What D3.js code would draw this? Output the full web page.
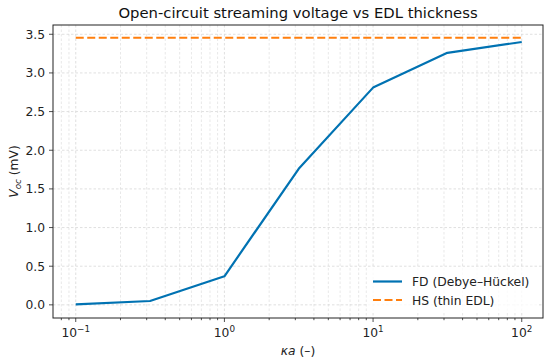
<!DOCTYPE html>
<html><head><meta charset="utf-8">
<script src="https://cdn.jsdelivr.net/npm/d3@7"></script>
<style>body{margin:0;background:#fff}svg{display:block;font-family:"DejaVu Sans",sans-serif}</style>
</head><body><svg id="c" width="550" height="362"></svg>
<script>
const kaValues = [0.1, 0.316, 1, 3.16, 10, 31.6, 100];
const fdValues = [0.005, 0.05, 0.37, 1.76, 2.81, 3.26, 3.40];
const hsValue = 3.455;
const yTicks = [0.0, 0.5, 1.0, 1.5, 2.0, 2.5, 3.0, 3.5];
const xTickExps = [-1, 0, 1, 2];
const seriesNames = ["FD (Debye\u2013H\u00fcckel)", "HS (thin EDL)"];
const colors = ["#0072b2", "#ff7f0e"];

const svg = d3.select("#c");
const L = 53, R = 543, T = 25, B = 318;
const x = d3.scaleLog().domain([Math.pow(10,-1.153), Math.pow(10,2.143)]).range([L, R]);
const y = d3.scaleLinear().domain([-0.17, 3.62]).range([B, T]);

// grid
const minor = [];
for (let e = -2; e <= 2; e++) for (let m = 1; m < 10; m++) { const v = m*Math.pow(10,e); if (v >= x.domain()[0] && v <= x.domain()[1]) minor.push(v); }
const isMajor = d => xTickExps.some(e=>Math.abs(Math.pow(10,e)-d)<1e-9);
const g = svg.append("g");
g.selectAll(".gx").data(minor).join("line").attr("x1", d=>x(d)).attr("x2", d=>x(d)).attr("y1", T).attr("y2", B)
  .attr("stroke", "#d8d8d8").attr("stroke-width", d => isMajor(d) ? 0.8 : 0.6).attr("stroke-dasharray","2.5,2");
g.selectAll(".gy").data(yTicks).join("line").attr("x1", L).attr("x2", R).attr("y1", d=>y(d)).attr("y2", d=>y(d))
  .attr("stroke", "#d8d8d8").attr("stroke-width", 0.8).attr("stroke-dasharray","2.5,2");

// lines
const line = d3.line().x((d,i)=>x(kaValues[i])).y(d=>y(d));
svg.append("path").datum(fdValues).attr("d", line).attr("fill","none").attr("stroke",colors[0]).attr("stroke-width",2.2).attr("stroke-linejoin","round");
svg.append("line").attr("x1", x(kaValues[0])).attr("x2", x(kaValues[kaValues.length-1])).attr("y1", y(hsValue)).attr("y2", y(hsValue))
  .attr("stroke", colors[1]).attr("stroke-width", 2.2).attr("stroke-dasharray","8,3.5");

// legend
const lg = svg.append("g");
lg.append("rect").attr("x",367).attr("y",268).attr("width",172).attr("height",44).attr("rx",3).attr("fill","#fff").attr("fill-opacity",0.8).attr("stroke","none");
seriesNames.forEach((n,i)=>{
  const yy = 281.5 + i*18.5;
  lg.append("line").attr("x1",373).attr("x2",402).attr("y1",yy).attr("y2",yy).attr("stroke",colors[i]).attr("stroke-width",2.2).attr("stroke-dasharray", i===1 ? "8,3.5" : null);
  lg.append("text").attr("x",412).attr("y",yy+4.5).attr("font-size",12.3).attr("fill","#222").text(n);
});

// frame
svg.append("rect").attr("x",L).attr("y",T).attr("width",R-L).attr("height",B-T).attr("fill","none").attr("stroke","#222").attr("stroke-width",1);

// x ticks
const ax = svg.append("g");
ax.selectAll(".mt").data(minor).join("line").attr("x1",d=>x(d)).attr("x2",d=>x(d)).attr("y1",B).attr("y2", d => isMajor(d) ? B+4 : B+2.2).attr("stroke","#222").attr("stroke-width",0.8);
const xt = ax.selectAll(".xt").data(xTickExps).join("text").attr("x", d=>x(Math.pow(10,d))).attr("y", B+19).attr("text-anchor","middle").attr("font-size",12.3).attr("fill","#222");
xt.append("tspan").text("10");
xt.append("tspan").attr("dy",-5.5).attr("font-size",8.8).text(d => d < 0 ? "\u2212" + (-d) : d);

// y ticks
const ay = svg.append("g");
ay.selectAll("line").data(yTicks).join("line").attr("x1",L-4).attr("x2",L).attr("y1",d=>y(d)).attr("y2",d=>y(d)).attr("stroke","#222").attr("stroke-width",0.8);
ay.selectAll("text").data(yTicks).join("text").attr("x",L-8).attr("y",d=>y(d)+4.5).attr("text-anchor","end").attr("font-size",12.3).attr("fill","#222").text(d=>d.toFixed(1));

// labels
svg.append("text").attr("x",(L+R)/2).attr("y",18).attr("text-anchor","middle").attr("font-size",14.8).attr("fill","#111").text("Open-circuit streaming voltage vs EDL thickness");
const xl = svg.append("text").attr("x",(L+R)/2).attr("y",355).attr("text-anchor","middle").attr("font-size",12.3).attr("fill","#222");
xl.append("tspan").attr("font-style","italic").text("\u03baa");
xl.append("tspan").text(" (\u2013)");
const yl = svg.append("text").attr("transform",`translate(18,${(T+B)/2}) rotate(-90)`).attr("text-anchor","middle").attr("font-size",12.3).attr("fill","#222");
yl.append("tspan").attr("font-style","italic").text("V");
yl.append("tspan").attr("font-style","italic").attr("font-size",8.8).attr("dy",3).text("oc");
yl.append("tspan").attr("dy",-3).text(" (mV)");
</script></body></html>
